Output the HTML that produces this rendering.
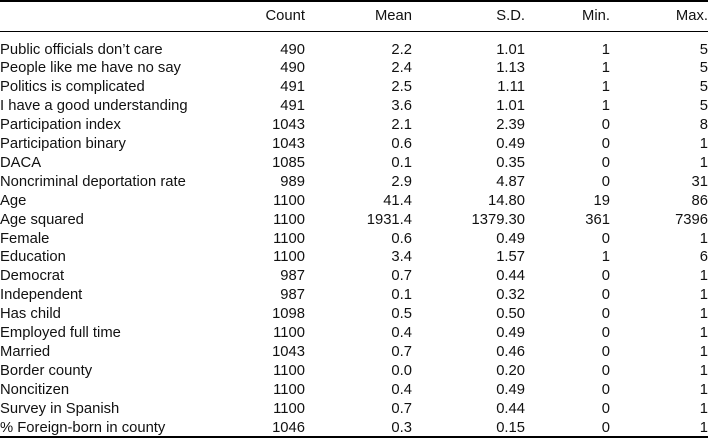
<!DOCTYPE html>
<html><head><meta charset="utf-8"><style>
body{margin:0;width:708px;height:438px;background:#fff;overflow:hidden;font-family:"Liberation Sans","DejaVu Sans",sans-serif;font-size:14.8px;color:#111}
.r{position:absolute;left:0;width:708px;height:17px;line-height:17px}
.r span{position:absolute;white-space:nowrap}
.l{left:0}
.c1{right:403px}.c2{right:296px}.c3{right:183px}.c4{right:98px}.c5{right:0}
.rule{position:absolute;left:0;width:708px;background:#000}
</style></head><body>
<div class="rule" style="top:0;height:2px"></div>
<div class="rule" style="top:31px;height:1px"></div>
<div class="rule" style="top:436px;height:2px"></div>
<div id="rows"></div>
<script>
var h=["","Count","Mean","S.D.","Min.","Max."];
var d=[
["Public officials don’t care","490","2.2","1.01","1","5"],
["People like me have no say","490","2.4","1.13","1","5"],
["Politics is complicated","491","2.5","1.11","1","5"],
["I have a good understanding","491","3.6","1.01","1","5"],
["Participation index","1043","2.1","2.39","0","8"],
["Participation binary","1043","0.6","0.49","0","1"],
["DACA","1085","0.1","0.35","0","1"],
["Noncriminal deportation rate","989","2.9","4.87","0","31"],
["Age","1100","41.4","14.80","19","86"],
["Age squared","1100","1931.4","1379.30","361","7396"],
["Female","1100","0.6","0.49","0","1"],
["Education","1100","3.4","1.57","1","6"],
["Democrat","987","0.7","0.44","0","1"],
["Independent","987","0.1","0.32","0","1"],
["Has child","1098","0.5","0.50","0","1"],
["Employed full time","1100","0.4","0.49","0","1"],
["Married","1043","0.7","0.46","0","1"],
["Border county","1100","0.0","0.20","0","1"],
["Noncitizen","1100","0.4","0.49","0","1"],
["Survey in Spanish","1100","0.7","0.44","0","1"],
["% Foreign-born in county","1046","0.3","0.15","0","1"]];
var cls=["l","c1","c2","c3","c4","c5"],o="";
function row(a,y){o+='<div class="r" style="top:'+y+'px">';for(var i=0;i<6;i++)o+='<span class="'+cls[i]+'">'+a[i]+'</span>';o+='</div>';}
row(h,8);
for(var i=0;i<d.length;i++)row(d[i],41.5+i*18.9);
document.getElementById("rows").innerHTML=o;
</script>
</body></html>
